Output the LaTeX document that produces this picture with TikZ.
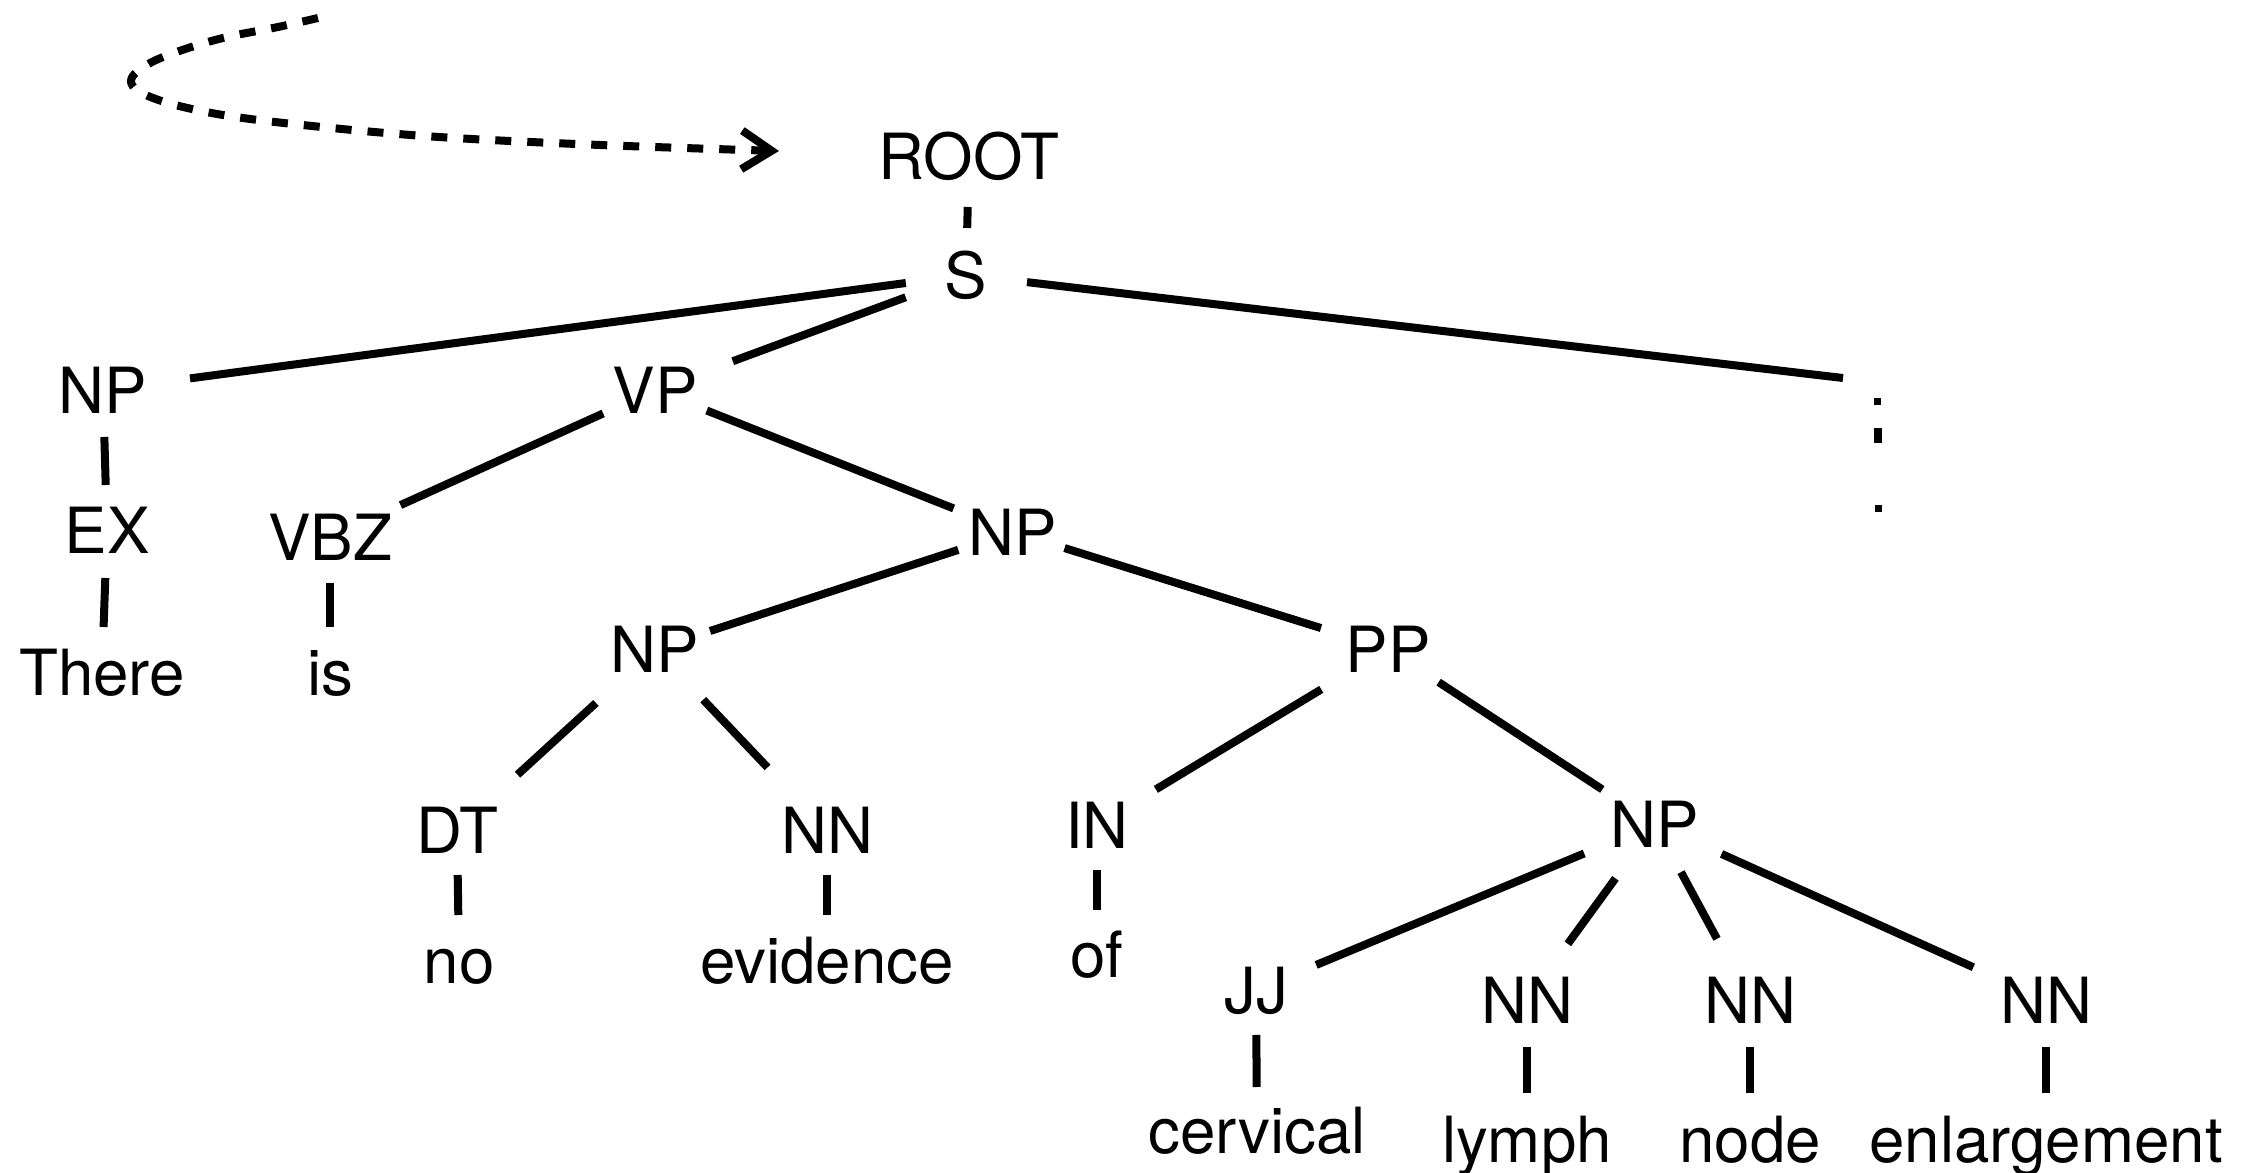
\documentclass[tikz,border=0pt]{standalone}
\usepackage{fontspec}
\setmainfont{TeX Gyre Heros}
\usetikzlibrary{arrows.meta}
\begin{document}
\begin{tikzpicture}[x=0.01cm, y=-0.01cm,
  lbl/.style={anchor=base, inner sep=0pt, text height=0.46cm, text depth=0pt,
              font=\fontsize{18.1}{20}\selectfont},
  edge/.style 2 args={line width=0.08cm, shorten <=#1*0.01cm, shorten >=#2*0.01cm},
  curvy/.style={line width=0.08cm, dash pattern=on 0.16cm off 0.16cm,
                -{Straight Barb[length=8.5pt, width=11pt]}},
  dot/.style={fill=black}]
\useasboundingbox (0,0) rectangle (2251,1173);

% incoming dashed arrow
\draw[curvy] plot[smooth, tension=0.6] coordinates {(318,18) (278,27) (215,40) (154,61) (131,81) (153,98) (217,114) (312,126) (439,137) (600,145) (779,151)};

% tree labels
\node[lbl] (root)  at (969,180)   {ROOT};
\node[lbl] (s)     at (966,298)   {S};
\node[lbl] (np1)   at (103,413)   {NP};
\node[lbl] (vp)    at (655,413)   {VP};
\node[lbl] (ex)    at (107,553)   {EX};
\node[lbl] (vbz)   at (330,560)   {VBZ};
\node[lbl] (np2)   at (1013,555)  {NP};
\node[lbl] (there) at (102,695)   {There};
\node[lbl] (wis)   at (330,695)   {is};
\node[lbl] (np3)   at (655,672)   {NP};
\node[lbl] (pp)    at (1388,672)  {PP};
\node[lbl] (dt)    at (457,853)   {DT};
\node[lbl] (nna)   at (827,853)   {NN};
\node[lbl] (prep)  at (1097,848)  {IN};
\node[lbl] (np4)   at (1655,847)  {NP};
\node[lbl] (wno)   at (459,983)   {no};
\node[lbl] (evid)  at (827,983)   {evidence};
\node[lbl] (wof)   at (1097,977)  {of};
\node[lbl] (jj)    at (1256,1013) {JJ};
\node[lbl] (nnb)   at (1527,1023) {NN};
\node[lbl] (nnc)   at (1750,1023) {NN};
\node[lbl] (nnd)   at (2046,1023) {NN};
\node[lbl] (cerv)  at (1257,1153) {cervical};
\node[lbl] (lymph) at (1527,1162) {lymph};
\node[lbl] (wnode) at (1750,1162) {node};
\node[lbl] (enl)   at (2046,1162) {enlargement};

% free end of the branch towards the elided part
\coordinate (rest) at (1843,378);

% branches
\draw[edge={50}{47}]     (root.center) -- (s.center);
\draw[edge={60.7}{87.8}] (s.center) -- (np1.center);
\draw[edge={64.3}{82.9}] (s.center) -- (vp.center);
\draw[edge={61.4}{0}]    (s.center) -- (rest);
\draw[edge={47}{45}]     (np1.center) -- (ex.center);
\draw[edge={48}{45}]     (ex.center) -- (there.center);
\draw[edge={56.9}{77.4}] (vp.center) -- (vbz.center);
\draw[edge={55.7}{63.9}] (vp.center) -- (np2.center);
\draw[edge={46}{45}]     (vbz.center) -- (wis.center);
\draw[edge={57.6}{57.9}] (np2.center) -- (np3.center);
\draw[edge={54}{70.2}]   (np2.center) -- (pp.center);
\draw[edge={80}{82}]     (np3.center) -- (dt.center);
\draw[edge={70}{86.3}]   (np3.center) -- (nna.center);
\draw[edge={45}{45}]     (dt.center) -- (wno.center);
\draw[edge={45}{45}]     (nna.center) -- (evid.center);
\draw[edge={78}{68.8}]   (pp.center) -- (prep.center);
\draw[edge={60.5}{63}]   (pp.center) -- (np4.center);
\draw[edge={45}{44}]     (prep.center) -- (wof.center);
\draw[edge={76.7}{65.2}] (np4.center) -- (jj.center);
\draw[edge={67.2}{69.4}] (np4.center) -- (nnb.center);
\draw[edge={54.7}{69.5}] (np4.center) -- (nnc.center);
\draw[edge={73}{79.7}]   (np4.center) -- (nnd.center);
\draw[edge={45}{43}]     (jj.center) -- (cerv.center);
\draw[edge={47}{46}]     (nnb.center) -- (lymph.center);
\draw[edge={47}{46}]     (nnc.center) -- (wnode.center);
\draw[edge={47}{46}]     (nnd.center) -- (enl.center);

% vertical ellipsis marks
\fill[dot] (1873.7,398) rectangle (1880.7,404.7);
\fill[dot] (1873.7,427.7) rectangle (1882,443.3);
\fill[dot] (1874.7,505) rectangle (1881.7,511.7);
\end{tikzpicture}
\end{document}
